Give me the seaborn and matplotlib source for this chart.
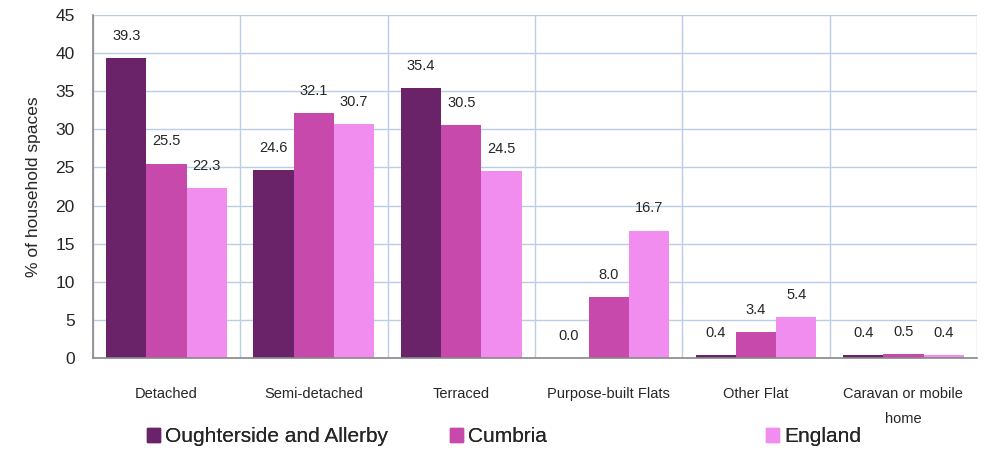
import numpy as np
import pandas as pd
import matplotlib
matplotlib.use("Agg")
import matplotlib.pyplot as plt
from matplotlib.patches import Patch
import seaborn as sns

# Данні з графіка
categories = ["Detached", "Semi-detached", "Terraced", "Purpose-built Flats",
              "Other Flat", "Caravan or mobile\nhome"]
series = ["Oughterside and Allerby", "Cumbria", "England"]
oughterside = [39.3, 24.6, 35.4, 0.0, 0.4, 0.4]
cumbria = [25.5, 32.1, 30.5, 8.0, 3.4, 0.5]
england = [22.3, 30.7, 24.5, 16.7, 5.4, 0.4]
colors = ["#6A2268", "#C849AC", "#F18DEE"]

df = pd.DataFrame({
    "category": categories * 3,
    "area": [s for s in series for _ in categories],
    "value": oughterside + cumbria + england,
})

sns.set_style("white")
plt.rcParams["font.family"] = ["Liberation Sans", "DejaVu Sans"]

fig, ax = plt.subplots(figsize=(9.87, 4.51), dpi=100)
fig.subplots_adjust(left=0.094, right=0.99, top=0.967, bottom=0.206)

sns.barplot(data=df, x="category", y="value", hue="area", palette=colors,
            width=0.82, saturation=1, linewidth=0, legend=False, ax=ax)

for cont in ax.containers:
    ax.bar_label(cont, fmt="%.1f", padding=11, fontsize=10.5)

ax.set_ylim(0, 45)
ax.set_yticks(np.arange(0, 46, 5))
ax.set_xlim(-0.5, len(categories) - 0.5)
ax.set_xticks(np.arange(-0.5, len(categories), 1), minor=True)

grid_col = "#B9CDE5"
ax.grid(False)
ax.yaxis.grid(True, which="major", color=grid_col, lw=1)
ax.xaxis.grid(True, which="minor", color=grid_col, lw=1)
ax.set_axisbelow(True)

for s in ["top", "right"]:
    ax.spines[s].set_visible(False)
for s in ["left", "bottom"]:
    ax.spines[s].set_color("#888888")
    ax.spines[s].set_linewidth(1.2)

ax.tick_params(axis="x", which="major", length=0, pad=21, labelsize=10.5)
ax.tick_params(axis="x", which="minor", length=5, color="#888888", direction="out")
ax.tick_params(axis="y", length=5, color="#888888", direction="out",
               labelsize=12.5, pad=8)
for lab in ax.get_xticklabels():
    lab.set_linespacing(1.95)
    lab.set_verticalalignment("top")

ax.set_xlabel("")
ax.set_ylabel("% of household spaces", fontsize=12.5, labelpad=10)

# легенда: три окремі елементи на фіксованих позиціях, як у Excel
leg_x = [147, 450, 766]
for i, (name, col) in enumerate(zip(series, colors)):
    leg = fig.legend(handles=[Patch(color=col, label=name)],
                     loc="center left",
                     bbox_to_anchor=(leg_x[i] / 987, 1 - 437 / 451),
                     frameon=False, fontsize=15, handlelength=0.62,
                     handleheight=0.62, handletextpad=0.25,
                     borderpad=0, borderaxespad=0)
    fig.add_artist(leg)

fig.savefig("out.png", dpi=100)
